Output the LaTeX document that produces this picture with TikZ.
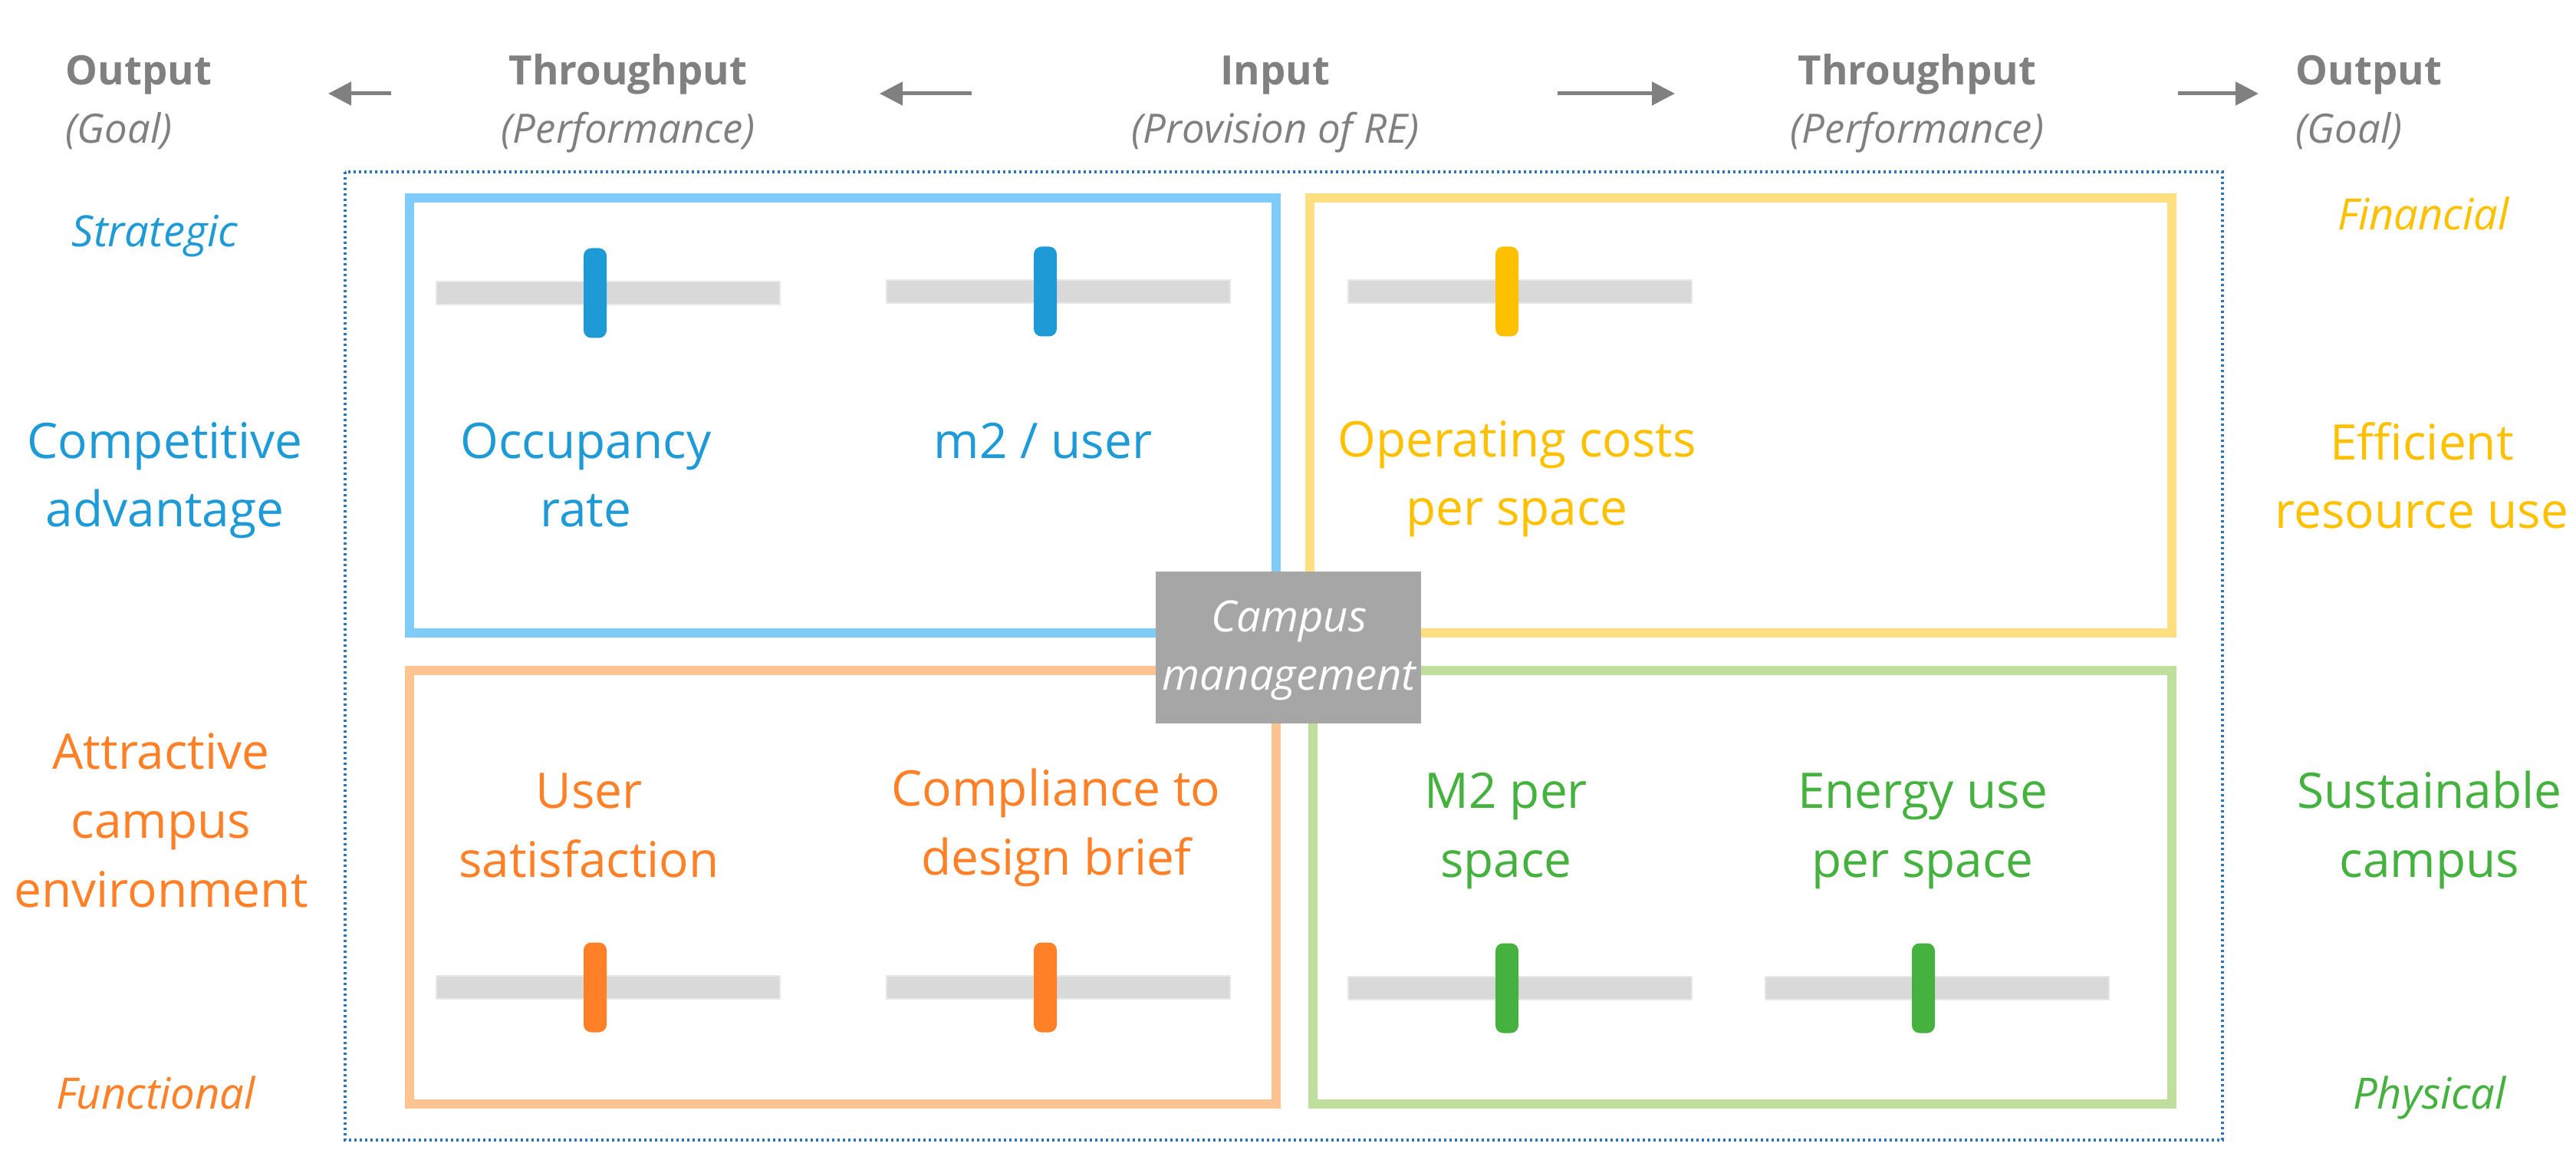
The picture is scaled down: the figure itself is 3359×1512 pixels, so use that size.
\documentclass[tikz,border=0pt]{standalone}
\usepackage{fontspec}
\setmainfont{Open Sans}
\usetikzlibrary{arrows.meta}
\definecolor{bluefr}{HTML}{7FCCFA}
\definecolor{bluetx}{HTML}{1E9AD6}
\definecolor{yellowfr}{HTML}{FFDF80}
\definecolor{yellowtx}{HTML}{FFC000}
\definecolor{orangefr}{HTML}{FFC291}
\definecolor{orangetx}{HTML}{FF8026}
\definecolor{greenfr}{HTML}{C0DE9C}
\definecolor{greentx}{HTML}{45B13E}
\definecolor{graytx}{HTML}{808080}
\definecolor{dotblue}{HTML}{2E75B6}
\definecolor{campusgray}{HTML}{A6A6A6}
\definecolor{bargray}{HTML}{D9D9D9}
\definecolor{baredge}{HTML}{E8E8E8}
\newcommand\mkslider[5]{%
  \node[sbar, anchor=west] (#1bar) at (#2,#3) {};
  \node[shandle, fill=#5] (#1h) at (#4,#3) {};}
\begin{document}
\begin{tikzpicture}[x=0.1mm,y=-0.1mm,
  body/.style={font=\fontsize{18.2}{25.5}\selectfont, align=center, inner sep=0pt},
  hdr/.style={font=\fontsize{15}{21.9}\selectfont, text=graytx, inner sep=0pt},
  lab/.style={font=\fontsize{16}{20}\selectfont\itshape, inner sep=0pt},
  frame/.style={line width=1.2mm},
  sbar/.style={fill=bargray, draw=baredge, line width=0.15mm, minimum width=44.8mm, minimum height=3mm, inner sep=0pt},
  shandle/.style={draw=none, rounded corners=1mm, minimum width=3mm, minimum height=11.7mm, inner sep=0pt},
  harrow/.style={draw=graytx, line width=0.5mm, -{Triangle[length=3mm,width=3mm]}},
  ]
\useasboundingbox (0,0) rectangle (3359,1512);
\fill[white] (0,0) rectangle (3359,1512);

% header (anchor base = baseline of the last line)
\node[hdr, align=left, anchor=base west] (outL) at (85,187) {\bfseries Output\\\itshape (Goal)};
\node[hdr, align=center, anchor=base] (thrL) at (819,187) {\bfseries Throughput\\\itshape (Performance)};
\node[hdr, align=center, anchor=base] (inp) at (1663,187) {\bfseries Input\\\itshape (Provision of RE)};
\node[hdr, align=center, anchor=base] (thrR) at (2500,187) {\bfseries Throughput\\\itshape (Performance)};
\node[hdr, align=left, anchor=base west] (outR) at (2993,187) {\bfseries Output\\\itshape (Goal)};

\coordinate (a1s) at (510,122); \coordinate (a1e) at (428,122);
\coordinate (a2s) at (1267,122); \coordinate (a2e) at (1147,122);
\coordinate (a3s) at (2031,122); \coordinate (a3e) at (2184,122);
\coordinate (a4s) at (2840,122); \coordinate (a4e) at (2945,122);
\draw[harrow] (a1s) -- (a1e);
\draw[harrow] (a2s) -- (a2e);
\draw[harrow] (a3s) -- (a3e);
\draw[harrow] (a4s) -- (a4e);

% dotted outline
\draw[dotblue, line width=0.35mm, dash pattern=on 0.35mm off 0.35mm] (450,224) rectangle (2898,1486);

% frames
\draw[frame, draw=bluefr] (534,258) rectangle (1664,825);
\draw[frame, draw=yellowfr] (1708,258) rectangle (2832,825);
\draw[frame, draw=orangefr] (534,874) rectangle (1664,1439);
\draw[frame, draw=greenfr] (1712,874) rectangle (2832,1439);

% sliders
\mkslider{sb1}{568}{382}{776}{bluetx}
\mkslider{sb2}{1155}{380}{1363}{bluetx}
\mkslider{sy1}{1757}{380}{1965}{yellowtx}
\mkslider{so1}{568}{1287}{776}{orangetx}
\mkslider{so2}{1155}{1287}{1363}{orangetx}
\mkslider{sg1}{1757}{1288}{1965}{greentx}
\mkslider{sg2}{2301}{1288}{2508}{greentx}

% side labels
\node[lab, text=bluetx, anchor=base] (strat) at (202,322) {Strategic};
\node[lab, text=yellowtx, anchor=base] (fin) at (3160,300) {Financial};
\node[lab, text=orangetx, anchor=base] (func) at (203,1445) {Functional};
\node[lab, text=greentx, anchor=base] (phys) at (3168,1445) {Physical};

% goals
\node[body, text=bluetx, anchor=base] (compadv) at (215,687) {Competitive\\advantage};
\node[body, text=yellowtx, anchor=base] (effres) at (3158,689) {Efficient\\resource use};
\node[body, text=orangetx, anchor=base] (attr) at (210,1182) {Attractive\\campus\\environment};
\node[body, text=greentx, anchor=base] (sust) at (3168,1143) {Sustainable\\campus};

% indicators
\node[body, text=bluetx, anchor=base] (occ) at (764,687) {Occupancy\\rate};
\node[body, text=bluetx, anchor=base] (m2u) at (1360,598) {m2 / user};
\node[body, text=yellowtx, anchor=base] (opc) at (1978,685) {Operating costs\\per space};
\node[body, text=orangetx, anchor=base] (usat) at (768,1143) {User\\satisfaction};
\node[body, text=orangetx, anchor=base] (comp) at (1377,1140) {Compliance to\\design brief};
\node[body, text=greentx, anchor=base] (m2s) at (1964,1143) {M2 per\\space};
\node[body, text=greentx, anchor=base] (energy) at (2507,1143) {Energy use\\per space};

% campus management
\node[fill=campusgray, minimum width=34.6mm, minimum height=19.8mm, inner sep=0pt] (campus) at (1680,844) {};
\node[align=center, text=white, inner sep=0pt, anchor=base, font=\fontsize{16}{21.9}\selectfont\itshape] (campustx) at (1681,900) {Campus\\management};
\end{tikzpicture}
\end{document}
